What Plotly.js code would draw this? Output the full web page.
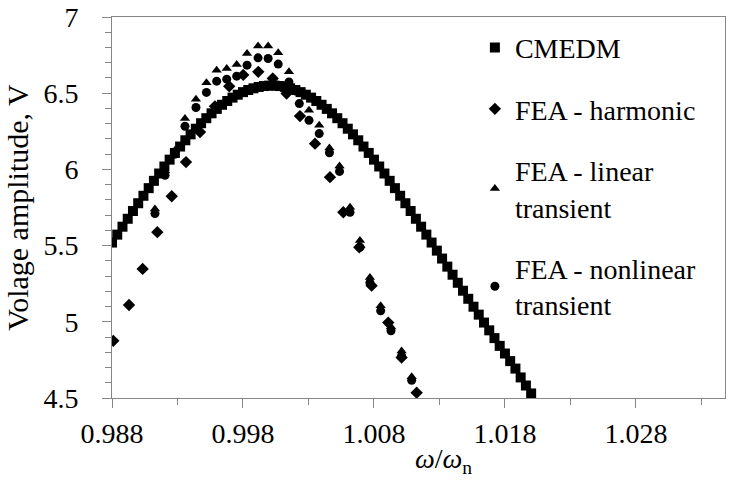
<!DOCTYPE html>
<html>
<head>
<meta charset="utf-8">
<script src="https://cdn.plot.ly/plotly-3.0.1.min.js"></script>
<style>html,body{margin:0;padding:0;background:#fff}#chart{width:732px;height:482px}</style>
</head>
<body>
<div id="chart"></div>
<script>
// CMEDM model (squares)
const cmedmX = [0.9880,0.9884,0.9888,0.9892,0.9896,0.9900,0.9904,0.9908,0.9912,0.9916,0.9920,0.9924,0.9928,0.9932,0.9936,0.9940,0.9944,0.9948,0.9952,0.9956,0.9960,0.9964,0.9968,0.9972,0.9976,0.9980,0.9984,0.9988,0.9992,0.9996,1.0000,1.0004,1.0008,1.0012,1.0016,1.0020,1.0024,1.0028,1.0032,1.0036,1.0040,1.0044,1.0048,1.0052,1.0056,1.0060,1.0064,1.0068,1.0072,1.0076,1.0080,1.0084,1.0088,1.0092,1.0096,1.0100,1.0104,1.0108,1.0112,1.0116,1.0120,1.0124,1.0128,1.0132,1.0136,1.0140,1.0144,1.0148,1.0152,1.0156,1.0160,1.0164,1.0168,1.0172,1.0176,1.0180,1.0184,1.0188,1.0192,1.0196,1.0200];
const cmedmY = [5.520,5.572,5.624,5.676,5.727,5.778,5.827,5.877,5.925,5.973,6.019,6.064,6.108,6.150,6.191,6.230,6.267,6.303,6.336,6.368,6.397,6.424,6.449,6.471,6.490,6.507,6.521,6.532,6.541,6.547,6.550,6.550,6.547,6.541,6.532,6.521,6.507,6.490,6.471,6.449,6.424,6.397,6.368,6.336,6.303,6.267,6.230,6.191,6.150,6.108,6.064,6.019,5.973,5.925,5.877,5.827,5.778,5.727,5.676,5.624,5.572,5.520,5.467,5.415,5.362,5.309,5.256,5.204,5.151,5.099,5.047,4.995,4.944,4.893,4.842,4.792,4.742,4.693,4.635,4.582,4.530];

// FEA - harmonic (diamonds)
const harmX = [0.9881,0.9893,0.99034,0.99146,0.99256,0.99365,0.99472,0.99586,0.99695,0.99802,0.99917,1.00027,1.00133,1.00235,1.00350,1.00464,1.00566,1.00688,1.00782,1.00909,1.01011,1.01126];
const harmY = [4.875,5.110,5.347,5.588,5.824,6.048,6.245,6.414,6.545,6.620,6.640,6.597,6.498,6.350,6.169,5.949,5.719,5.489,5.237,4.995,4.765,4.535];

// FEA - linear / nonlinear transient (shared frequencies)
const transX = [0.99128,0.99205,0.99281,0.99357,0.99441,0.99521,0.99599,0.99676,0.99752,0.99831,0.99915,0.99992,1.00069,1.00151,1.00230,1.00304,1.00382,1.00460,1.00537,1.00617,1.00693,1.00769,1.00851,1.00930,1.01011,1.01088];
const linY = [5.740,5.990,6.125,6.334,6.461,6.568,6.651,6.662,6.689,6.761,6.809,6.809,6.765,6.640,6.500,6.388,6.289,6.141,6.023,5.752,5.533,5.290,5.105,4.967,4.809,4.640];
const nonlinY = [5.710,5.961,6.100,6.283,6.406,6.505,6.579,6.592,6.612,6.684,6.732,6.728,6.691,6.574,6.432,6.322,6.235,6.109,5.987,5.719,5.489,5.257,5.072,4.941,4.776,4.616];

const seriesNames = ['CMEDM','FEA - harmonic','FEA - linear<br>transient','FEA - nonlinear<br>transient'];

const FONT = '"Liberation Serif", "Times New Roman", Times, serif';
const AXC = '#868686';

const traces = [
  {x: cmedmX, y: cmedmY, name: seriesNames[0], mode: 'markers', type: 'scatter', legendgroup: 'a',
   marker: {symbol: 'square', size: 10, color: '#000'}},
  {x: harmX, y: harmY, name: seriesNames[1], mode: 'markers', type: 'scatter', legendgroup: 'b',
   marker: {symbol: 'diamond', size: 9.5, color: '#000'}},
  {x: transX, y: linY, name: seriesNames[2], mode: 'markers', type: 'scatter', legendgroup: 'c',
   marker: {symbol: 'triangle-up', size: 9, color: '#000'}},
  {x: transX, y: nonlinY, name: seriesNames[3], mode: 'markers', type: 'scatter', legendgroup: 'd',
   marker: {symbol: 'circle', size: 9, color: '#000'}}
];

const xr = [0.988, 1.0348];
const yr = [4.5, 7];

const layout = {
  width: 732, height: 482,
  margin: {l: 112, r: 7, t: 17, b: 84},
  paper_bgcolor: '#fff', plot_bgcolor: '#fff',
  font: {family: FONT, size: 28, color: '#000'},
  showlegend: true,
  legend: {x: 0.592, y: 0.985, xanchor: 'left', yanchor: 'top', bgcolor: 'rgba(0,0,0,0)',
           font: {family: FONT, size: 28, color: '#000'}, tracegroupgap: 22, itemwidth: 30},
  xaxis: {range: xr, tick0: 0.988, dtick: 0.01, tickformat: '.3f', showgrid: false, zeroline: false,
          showline: true, mirror: true, linecolor: AXC, linewidth: 1,
          ticks: 'outside', ticklen: 9, tickcolor: AXC, tickwidth: 1, ticklabelstandoff: 1,
          minor: {dtick: 0.005, tick0: 0.988, ticks: 'outside', ticklen: 6, tickcolor: AXC, tickwidth: 1, showgrid: false},
          tickfont: {family: FONT, size: 28, color: '#000'}},
  yaxis: {range: yr, dtick: 0.5, showgrid: false, zeroline: false,
          showline: true, mirror: true, linecolor: AXC, linewidth: 1,
          ticks: 'outside', ticklen: 9, tickcolor: AXC, tickwidth: 1, ticklabelstandoff: 18,
          minor: {dtick: 0.1, ticks: 'outside', ticklen: 6, tickcolor: AXC, tickwidth: 1, showgrid: false},
          tickfont: {family: FONT, size: 28, color: '#000'},
          title: {text: 'Volage amplitude, V', font: {family: FONT, size: 30, color: '#000'}, standoff: 5}},
  xaxis2: {range: xr, tick0: 0.988, dtick: 0.01, overlaying: 'x', anchor: 'y', side: 'bottom',
           showgrid: false, zeroline: false, showline: false, showticklabels: false,
           ticks: 'inside', ticklen: 9, tickcolor: AXC, tickwidth: 1},
  yaxis2: {range: yr, dtick: 0.5, overlaying: 'y', anchor: 'x', side: 'left',
           showgrid: false, zeroline: false, showline: false, showticklabels: false,
           ticks: 'inside', ticklen: 9, tickcolor: AXC, tickwidth: 1},
  annotations: [{text: '<i>ω</i>/<i>ω</i><sub>n</sub>', xref: 'paper', yref: 'paper',
                 x: 0.54, y: -0.165, xanchor: 'center', yanchor: 'middle', showarrow: false,
                 font: {family: FONT, size: 28, color: '#000'}}]
};

Plotly.newPlot('chart', traces, layout, {staticPlot: true, displayModeBar: false});
</script>
</body>
</html>
